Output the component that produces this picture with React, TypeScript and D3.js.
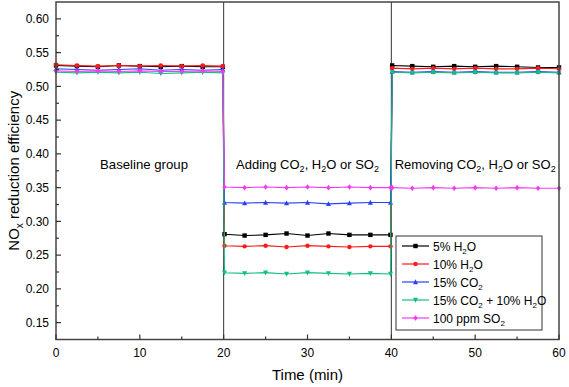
import React from 'react';
import { scaleLinear, line } from 'd3';

const times = [0, 2.5, 5, 7.5, 10, 12.5, 15, 17.5, 19.9, 20.1, 22.5, 25, 27.5, 30, 32.5, 35, 37.5, 39.9, 40.1, 42.5, 45, 47.5, 50, 52.5, 55, 57.5, 60];

const h2o5 = [0.531, 0.530, 0.529, 0.531, 0.530, 0.529, 0.530, 0.529, 0.529, 0.281, 0.279, 0.280, 0.282, 0.279, 0.282, 0.280, 0.280, 0.280, 0.531, 0.530, 0.529, 0.530, 0.529, 0.530, 0.529, 0.528, 0.528];
const h2o10 = [0.532, 0.531, 0.530, 0.531, 0.530, 0.531, 0.530, 0.531, 0.530, 0.264, 0.263, 0.264, 0.262, 0.264, 0.263, 0.262, 0.263, 0.263, 0.527, 0.526, 0.527, 0.526, 0.527, 0.526, 0.526, 0.527, 0.526];
const co2 = [0.526, 0.525, 0.524, 0.525, 0.526, 0.524, 0.525, 0.524, 0.525, 0.328, 0.327, 0.328, 0.327, 0.328, 0.326, 0.327, 0.328, 0.328, 0.522, 0.521, 0.522, 0.521, 0.522, 0.521, 0.521, 0.522, 0.521];
const co2h2o = [0.521, 0.520, 0.521, 0.520, 0.521, 0.519, 0.520, 0.521, 0.520, 0.224, 0.223, 0.224, 0.222, 0.224, 0.223, 0.222, 0.223, 0.222, 0.521, 0.520, 0.521, 0.520, 0.521, 0.520, 0.520, 0.521, 0.520];
const so2 = [0.523, 0.522, 0.523, 0.522, 0.523, 0.522, 0.522, 0.523, 0.522, 0.351, 0.350, 0.351, 0.350, 0.351, 0.350, 0.351, 0.350, 0.350, 0.350, 0.349, 0.350, 0.349, 0.350, 0.349, 0.350, 0.349, 0.349];

// legend labels, split into [text, subscript] pieces
const seriesNames = [
  [{ t: '5% H' }, { t: '2', sub: true }, { t: 'O' }],
  [{ t: '10% H' }, { t: '2', sub: true }, { t: 'O' }],
  [{ t: '15% CO' }, { t: '2', sub: true }],
  [{ t: '15% CO' }, { t: '2', sub: true }, { t: ' + 10% H' }, { t: '2', sub: true }, { t: 'O' }],
  [{ t: '100 ppm SO' }, { t: '2', sub: true }],
];
const seriesColors = ['#000000', '#ff1a1a', '#2a40ff', '#12c07e', '#f23cf2'];
const seriesShapes = ['square', 'circle', 'up', 'down', 'diamond'];
const seriesValues = [h2o5, h2o10, co2, co2h2o, so2];

const xTicks = [0, 10, 20, 30, 40, 50, 60];
const xMinor = [5, 15, 25, 35, 45, 55];
const yTicks = [0.15, 0.2, 0.25, 0.3, 0.35, 0.4, 0.45, 0.5, 0.55, 0.6];
const yMinor = [0.175, 0.225, 0.275, 0.325, 0.375, 0.425, 0.475, 0.525, 0.575];
const phaseLines = [20, 40];

const addingLabel = [{ t: 'Adding CO' }, { t: '2', sub: true }, { t: ', H' }, { t: '2', sub: true }, { t: 'O or SO' }, { t: '2', sub: true }];
const removingLabel = [{ t: 'Removing CO' }, { t: '2', sub: true }, { t: ', H' }, { t: '2', sub: true }, { t: 'O or SO' }, { t: '2', sub: true }];

const FONT = 'Liberation Sans, Arial, sans-serif';

function Marker({ shape, x, y, color }: any) {
  const s = 2.2;
  if (shape === 'square') return <rect x={x - s} y={y - s} width={2 * s} height={2 * s} fill={color} />;
  if (shape === 'circle') return <circle cx={x} cy={y} r={s} fill={color} />;
  if (shape === 'up') return <path d={`M${x},${y - s - 0.5}L${x + s + 0.3},${y + s}L${x - s - 0.3},${y + s}Z`} fill={color} />;
  if (shape === 'down') return <path d={`M${x},${y + s + 0.5}L${x + s + 0.3},${y - s}L${x - s - 0.3},${y - s}Z`} fill={color} />;
  return <path d={`M${x},${y - s - 0.6}L${x + s},${y}L${x},${y + s + 0.6}L${x - s},${y}Z`} fill={color} />;
}

function SubText({ x, y, parts, anchor, size }: any) {
  const subSize = Math.round(size * 0.68);
  return (
    <text x={x} y={y} fontFamily={FONT} fontSize={size} textAnchor={anchor}>
      {parts.map((p: any, i: number) =>
        p.sub ? (
          <tspan key={i} fontSize={subSize} dy={3}>{p.t}</tspan>
        ) : (
          <tspan key={i} dy={i > 0 && parts[i - 1].sub ? -3 : 0}>{p.t}</tspan>
        )
      )}
    </text>
  );
}

export default function App() {
  const width = 569;
  const height = 387;
  const left = 56, right = 559, top = 2, bottom = 339.5;

  const x = scaleLinear().domain([0, 60]).range([left, right]);
  const y = scaleLinear().domain([0.125, 0.625]).range([bottom, top]);

  const path = line<number>()
    .x((_, i) => x(times[i]))
    .y((d) => y(d));

  return (
    <svg width={width} height={height} style={{ position: 'absolute', left: 0, top: 0 }}>
      <rect width={width} height={height} fill="white" />
      {phaseLines.map((t) => (
        <line key={t} x1={x(t)} x2={x(t)} y1={top} y2={bottom} stroke="#333" strokeWidth={1} />
      ))}
      {seriesValues.map((vals, si) => (
        <g key={si}>
          <path d={path(vals) || ''} fill="none" stroke={seriesColors[si]} strokeWidth={1.1} />
          {vals.map((v, i) => (
            <Marker key={i} shape={seriesShapes[si]} x={x(times[i])} y={y(v)} color={seriesColors[si]} />
          ))}
        </g>
      ))}

      <rect x={left} y={top} width={right - left} height={bottom - top} fill="none" stroke="#444" strokeWidth={1.5} />

      {xTicks.map((t) => (
        <g key={t}>
          <line x1={x(t)} x2={x(t)} y1={bottom} y2={bottom - 5} stroke="#333" strokeWidth={1.2} />
          <text x={x(t)} y={bottom + 17.5} fontFamily={FONT} fontSize={12} textAnchor="middle">{t}</text>
        </g>
      ))}
      {xMinor.map((t) => (
        <line key={t} x1={x(t)} x2={x(t)} y1={bottom} y2={bottom - 3} stroke="#333" strokeWidth={1.2} />
      ))}
      {yTicks.map((t) => (
        <g key={t}>
          <line x1={left} x2={left + 5} y1={y(t)} y2={y(t)} stroke="#333" strokeWidth={1.2} />
          <text x={left - 7} y={y(t) + 4.3} fontFamily={FONT} fontSize={12} textAnchor="end">{t.toFixed(2)}</text>
        </g>
      ))}
      {yMinor.map((t) => (
        <line key={t} x1={left} x2={left + 3} y1={y(t)} y2={y(t)} stroke="#333" strokeWidth={1.2} />
      ))}

      <text x={(left + right) / 2} y={380} fontFamily={FONT} fontSize={15} textAnchor="middle">Time (min)</text>
      <text transform={`translate(19,${(top + bottom) / 2}) rotate(-90)`} fontFamily={FONT} fontSize={15} textAnchor="middle">
        <tspan>NO</tspan>
        <tspan fontSize={10} dy={4}>x</tspan>
        <tspan dy={-4}> reduction efficiency</tspan>
      </text>

      <text x={144} y={169} fontFamily={FONT} fontSize={13.2} textAnchor="middle">Baseline group</text>
      <SubText x={x(30)} y={169} anchor="middle" size={13} parts={addingLabel} />
      <SubText x={x(50)} y={169} anchor="middle" size={13} parts={removingLabel} />

      <rect x={396} y={236} width={146} height={94} fill="white" stroke="#333" strokeWidth={1} />
      {seriesNames.map((parts, i) => {
        const ly = 246 + i * 18;
        return (
          <g key={i}>
            <line x1={402} x2={429} y1={ly} y2={ly} stroke={seriesColors[i]} strokeWidth={1.2} />
            <Marker shape={seriesShapes[i]} x={415.5} y={ly} color={seriesColors[i]} />
            <SubText x={433} y={ly + 4.5} anchor="start" size={12} parts={parts} />
          </g>
        );
      })}
    </svg>
  );
}
